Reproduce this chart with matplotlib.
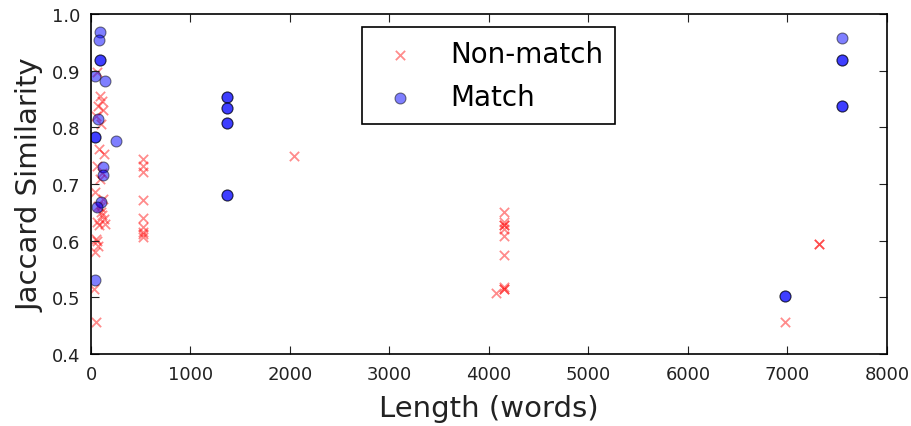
import matplotlib
matplotlib.use("Agg")
import matplotlib.pyplot as plt

# Non-match points (length in words, Jaccard similarity)
nonmatch_x = [60, 90, 110, 70, 120, 50, 100, 80, 130, 60, 110, 90, 40, 120, 70,
              100, 130, 80, 60, 110, 140, 90, 50, 70, 40, 60, 30, 50,
              524, 524, 524, 524, 524, 524, 524, 524, 524,
              2040,
              4151, 4151, 4151, 4151, 4151, 4151, 4151, 4151, 4151, 4151, 4070,
              6976,
              7323, 7323]
nonmatch_y = [0.897, 0.856, 0.847, 0.838, 0.83, 0.82, 0.806, 0.762, 0.753, 0.732,
              0.72, 0.709, 0.686, 0.674, 0.662, 0.65, 0.638, 0.627, 0.633, 0.645,
              0.63, 0.66, 0.603, 0.591, 0.58, 0.6, 0.515, 0.456,
              0.744, 0.732, 0.722, 0.672, 0.64, 0.624, 0.616, 0.606, 0.612,
              0.75,
              0.651, 0.633, 0.627, 0.627, 0.621, 0.608, 0.575, 0.518, 0.514, 0.514, 0.508,
              0.457,
              0.594, 0.594]

# Match points
match_x = [95, 80, 95, 95, 40, 140, 75, 40, 40, 250, 125, 125, 100, 65, 45,
           1367, 1367, 1367, 1367, 1367, 1367, 1367, 1367,
           6976, 6976,
           7547, 7547, 7547, 7547, 7547]
match_y = [0.969, 0.954, 0.918, 0.918, 0.891, 0.882, 0.815, 0.783, 0.783, 0.775,
           0.73, 0.715, 0.669, 0.659, 0.53,
           0.853, 0.853, 0.834, 0.834, 0.807, 0.807, 0.681, 0.681,
           0.502, 0.502,
           0.958, 0.918, 0.918, 0.838, 0.838]

x_ticks = [0, 1000, 2000, 3000, 4000, 5000, 6000, 7000, 8000]
y_ticks = [0.4, 0.5, 0.6, 0.7, 0.8, 0.9, 1.0]

plt.rcParams['font.family'] = ['DejaVu Sans']
fig = plt.figure(figsize=(9.12, 4.27), dpi=100)
ax = fig.add_axes([0.0998, 0.1686, 0.8726, 0.7964])

ax.scatter(nonmatch_x, nonmatch_y, marker='x', s=45, c='red', alpha=0.45,
           linewidths=1.3, label='Non-match')
ax.scatter(match_x, match_y, marker='o', s=62, c='blue', edgecolors='black',
           linewidths=0.8, alpha=0.5, label='Match')

ax.set_xlim(0, 8000)
ax.set_ylim(0.4, 1.0)
ax.set_xticks(x_ticks)
ax.set_yticks(y_ticks)
ax.set_xticklabels([str(t) for t in x_ticks])
ax.set_yticklabels([f"{t:.1f}" for t in y_ticks])
ax.tick_params(direction='in', top=True, right=True, length=6, width=0.8,
               labelsize=13, colors='#222222', pad=8)
for sp in ax.spines.values():
    sp.set_linewidth(1.2)
    sp.set_color('black')

ax.set_xlabel('Length (words)', fontsize=21, color='#222222', labelpad=8)
ax.set_ylabel('Jaccard Similarity', fontsize=21, color='#222222', labelpad=5)

leg = ax.legend(loc='upper center', bbox_to_anchor=(0.5, 0.985), fontsize=20,
                scatterpoints=1, fancybox=False, framealpha=1, edgecolor='black',
                handletextpad=0.9, borderpad=0.45, labelspacing=0.55,
                borderaxespad=0.3, handlelength=1.8)
leg.get_frame().set_linewidth(1.2)

fig.savefig('out.png', dpi=100)
